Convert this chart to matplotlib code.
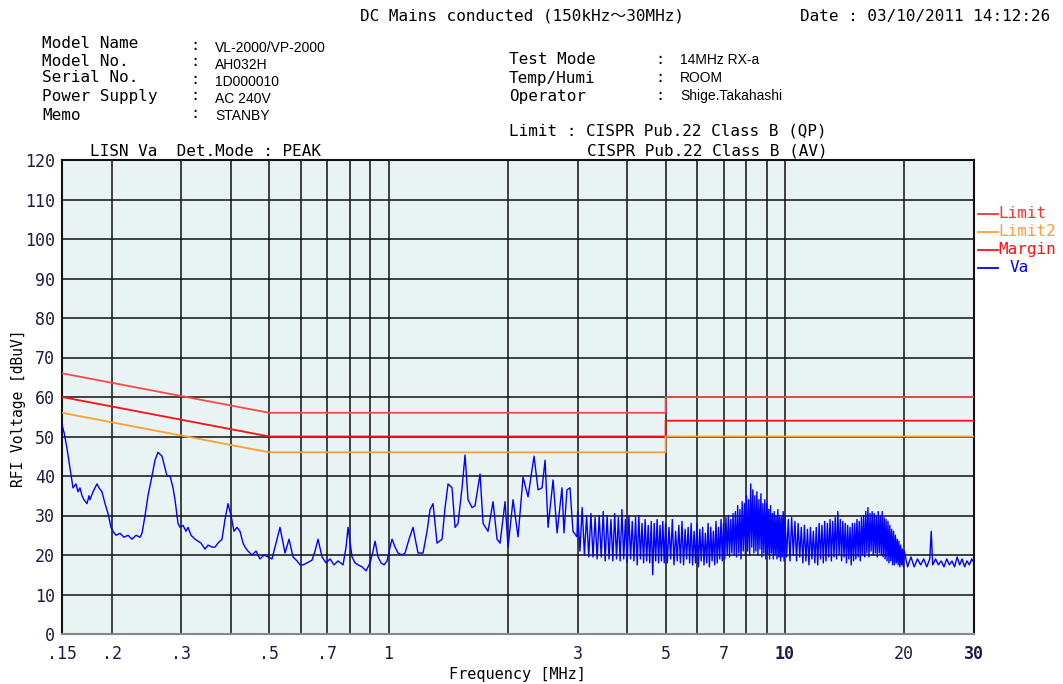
import numpy as np
import matplotlib
matplotlib.use("Agg")
import matplotlib.pyplot as plt
from matplotlib.ticker import NullLocator

# ---- limit lines (CISPR 22 class B) ----
lim_freq = [0.15, 0.5, 5.0, 5.0, 30.0]
limit_qp = [66, 56, 56, 60, 60]
limit_av = [56, 46, 46, 50, 50]
margin = [60, 50, 50, 54, 54]

# ---- measured Va trace, read off the plot ----
# 0.15 - 3 MHz
f_a = [0.150, 0.1518, 0.1544, 0.1571, 0.1599, 0.1627, 0.1646, 0.1665, 0.1685, 0.1704,
       0.1734, 0.1755, 0.1765, 0.1796, 0.1838, 0.1860, 0.1892, 0.1926, 0.1960, 0.1994,
       0.2017, 0.2053, 0.2101, 0.2150, 0.2201, 0.2253, 0.2306, 0.2360, 0.2388, 0.2430,
       0.2472, 0.2530, 0.2575, 0.2620, 0.2682, 0.2729, 0.2761, 0.2810, 0.2859, 0.2892,
       0.2943, 0.2978, 0.3030, 0.3083, 0.3119, 0.3174, 0.3249, 0.3306, 0.3364, 0.3443,
       0.3504, 0.3586, 0.3649, 0.3713, 0.3800, 0.3867, 0.3935, 0.4004, 0.4075, 0.4146,
       0.4219, 0.4294, 0.4344, 0.4420, 0.4524, 0.4630, 0.4739, 0.4851, 0.4965, 0.5081,
       0.5201, 0.5323, 0.5417, 0.5480, 0.5609, 0.5741, 0.5876, 0.5979, 0.6084, 0.6228,
       0.6411, 0.6524, 0.6639, 0.6795, 0.6954, 0.7118, 0.7285, 0.7457, 0.7677, 0.7812,
       0.7903, 0.8089, 0.8231, 0.8376, 0.8572, 0.8774, 0.8980, 0.9138, 0.9245, 0.9408,
       0.9573, 0.9741, 0.9913, 1.0087, 1.0205, 1.0384, 1.0567, 1.0815, 1.1006, 1.1264,
       1.1529, 1.1732, 1.1869, 1.2219, 1.2506, 1.2726, 1.2950, 1.3101, 1.3254, 1.3645,
       1.3885, 1.4129, 1.4461, 1.4716, 1.4974, 1.5326, 1.5595, 1.5870, 1.6243, 1.6529,
       1.7016, 1.7315, 1.7826, 1.8351, 1.8782, 1.9113, 1.9676, 2.0022, 2.0612, 2.1219,
       2.1845, 2.2490, 2.2886, 2.3289, 2.3837, 2.4398, 2.4827, 2.5263, 2.6009, 2.6621,
       2.7387, 2.7708, 2.8196, 2.8692, 2.9198, 2.9883]
v_a = [53, 51, 47, 42, 37, 38, 36, 37, 35, 34,
       33, 35, 34, 36, 38, 37, 36, 33, 30.5, 27,
       26, 25, 25.5, 24.5, 25, 24, 25, 24.5, 25.5, 30,
       35, 40, 44, 46, 45, 42, 40, 40, 37, 34,
       28, 27, 27.5, 26, 27, 25, 24, 23.5, 23, 21.5,
       22.5, 22, 22, 23, 24, 29, 33, 30, 26, 27,
       26, 23, 22, 21, 20, 21, 19, 20, 19.5, 19,
       23, 27, 23, 20.5, 24, 19.5, 18.5, 17.5, 17.5, 18,
       18.7, 21, 24, 19.5, 18, 19, 17.5, 18.5, 17.5, 22,
       27, 19.5, 18, 17.5, 17, 16, 18, 21, 23.5, 19.5,
       18, 17.5, 18.5, 22, 24, 22, 20.5, 20, 20.5, 24,
       27, 23, 20.5, 20.5, 26, 31.5, 33, 28, 23, 24,
       32, 38, 37, 27, 28, 37, 45.3, 34, 32, 32.5,
       40.5, 28, 26, 33.5, 24, 23, 33.5, 22, 34, 24.6,
       39.7, 34.7, 40, 45, 36.5, 37, 44, 27, 39, 25.6,
       37, 25.6, 36.5, 37, 26, 24.6]

# 3 - 5 MHz
f_b = [3.00, 3.04, 3.08, 3.12, 3.16, 3.20, 3.24, 3.28, 3.32, 3.36,
       3.40, 3.44, 3.48, 3.52, 3.56, 3.60, 3.64, 3.68, 3.72, 3.76,
       3.80, 3.84, 3.88, 3.92, 3.96, 4.00, 4.04, 4.08, 4.12, 4.16,
       4.20, 4.24, 4.28, 4.32, 4.36, 4.40, 4.44, 4.48, 4.52, 4.56,
       4.60, 4.64, 4.68, 4.72, 4.76, 4.80, 4.84, 4.88, 4.92, 4.96]
v_b = [31, 21, 32, 20, 30, 19.5, 30.5, 19.5, 29.5, 19,
       30, 19.5, 31, 18.5, 30, 19, 29, 18.5, 30.5, 19,
       29.5, 18.5, 31.5, 19, 29, 18, 30, 19, 28.5, 18.5,
       29.5, 17.5, 30, 19, 28, 18, 29, 18.5, 27.5, 18,
       28.5, 15, 28, 18.5, 29, 18, 27.5, 18.5, 28.5, 18]

# 5 - 10 MHz
f_c = [5.00, 5.05, 5.10, 5.15, 5.20, 5.25, 5.30, 5.35, 5.40, 5.45,
       5.50, 5.55, 5.60, 5.65, 5.70, 5.75, 5.80, 5.85, 5.90, 5.95,
       6.00, 6.05, 6.10, 6.15, 6.20, 6.25, 6.30, 6.35, 6.40, 6.45,
       6.50, 6.55, 6.60, 6.65, 6.70, 6.75, 6.80, 6.85, 6.90, 6.95,
       7.00, 7.05, 7.10, 7.15, 7.20, 7.25, 7.30, 7.35, 7.40, 7.45,
       7.50, 7.55, 7.60, 7.65, 7.70, 7.75, 7.80, 7.85, 7.90, 7.95,
       8.00, 8.05, 8.10, 8.15, 8.20, 8.25, 8.30, 8.35, 8.40, 8.45,
       8.50, 8.55, 8.60, 8.65, 8.70, 8.75, 8.80, 8.85, 8.90, 8.95,
       9.00, 9.05, 9.10, 9.15, 9.20, 9.25, 9.30, 9.35, 9.40, 9.45,
       9.50, 9.55, 9.60, 9.65, 9.70, 9.75, 9.80, 9.85, 9.90, 9.95]
v_c = [28, 18, 27, 19, 29, 17.5, 26, 18.5, 27.5, 18,
       28.5, 17.5, 26.5, 19, 27, 18, 28, 17.5, 26, 18,
       28, 17, 26.5, 18.5, 27, 17.5, 25.5, 18, 28, 17,
       27, 18.5, 26, 17.5, 28.5, 18, 27, 19, 29, 18.5,
       28, 19, 29.5, 20, 30, 19.5, 29, 20.5, 30.5, 20,
       31, 19.5, 32.5, 20.5, 31.5, 19, 33.5, 21, 33, 20,
       35, 21, 34, 20, 38, 22, 36.5, 20.5, 35, 21,
       36, 20, 34, 21.5, 35.5, 19.5, 33, 20.5, 34, 19,
       33, 20, 31.5, 19, 32.5, 20.5, 30.5, 19, 31, 20,
       30, 19, 31.5, 19.5, 30, 18.5, 29.5, 19.5, 31, 18.5]

# 10 - 20 MHz
f_d = [10.0, 10.1, 10.2, 10.3, 10.4, 10.5, 10.6, 10.7, 10.8, 10.9,
       11.0, 11.1, 11.2, 11.3, 11.4, 11.5, 11.6, 11.7, 11.8, 11.9,
       12.0, 12.1, 12.2, 12.3, 12.4, 12.5, 12.6, 12.7, 12.8, 12.9,
       13.0, 13.1, 13.2, 13.3, 13.4, 13.5, 13.6, 13.7, 13.8, 13.9,
       14.0, 14.1, 14.2, 14.3, 14.4, 14.5, 14.6, 14.7, 14.8, 14.9,
       15.0, 15.1, 15.2, 15.3, 15.4, 15.5, 15.6, 15.7, 15.8, 15.9,
       16.0, 16.1, 16.2, 16.3, 16.4, 16.5, 16.6, 16.7, 16.8, 16.9,
       17.0, 17.1, 17.2, 17.3, 17.4, 17.5, 17.6, 17.7, 17.8, 17.9,
       18.0, 18.1, 18.2, 18.3, 18.4, 18.5, 18.6, 18.7, 18.8, 18.9,
       19.0, 19.1, 19.2, 19.3, 19.4, 19.5, 19.6, 19.7, 19.8, 19.9]
v_d = [30, 19.5, 29, 18.5, 29.5, 20, 28.5, 18.5, 28, 19.5,
       27, 18, 27.5, 18.5, 26.5, 17.5, 27, 19, 26, 18,
       27, 17.5, 28, 19, 27.5, 18, 28.5, 18.5, 28, 19.5,
       29, 18.5, 28.5, 19.5, 29.5, 19, 31, 20, 29, 18.5,
       28.5, 19.5, 28, 18, 27.5, 19, 27, 17.5, 28, 18.5,
       28, 19, 29, 19.5, 28.5, 18.5, 29.5, 20, 30, 19.5,
       31, 20.5, 32, 19.5, 30.5, 21, 31, 20, 30.5, 20.5,
       30, 19.5, 31, 20.5, 30, 20, 31, 19.5, 29.5, 19,
       29, 18.5, 28.5, 18, 27.5, 18.5, 26.5, 17.5, 26, 17.5,
       25, 18, 24, 17.5, 23.5, 17, 22.5, 17.5, 21.5, 17]

# 20 - 30 MHz
f_e = [20.0, 20.4, 20.8, 21.2, 21.6, 22.0, 22.4, 22.8, 23.2, 23.4,
       23.6, 24.0, 24.4, 24.8, 25.2, 25.6, 26.0, 26.4, 26.8, 27.2,
       27.6, 28.0, 28.4, 28.8, 29.2, 29.6, 30.0]
v_e = [21, 17, 19.5, 17, 19, 17.5, 19, 17, 19, 26,
       17.5, 19, 17.5, 18.5, 17, 19, 17.5, 18.5, 17, 19.5,
       17.5, 19, 17, 18.5, 17.5, 19, 18]

va_freq = f_a + f_b + f_c + f_d + f_e
va_level = v_a + v_b + v_c + v_d + v_e

grid_freq = [0.2, 0.3, 0.4, 0.5, 0.6, 0.7, 0.8, 0.9, 1, 2, 3, 4, 5, 6, 7, 8, 9, 10, 20]
tick_freq = [0.15, 0.2, 0.3, 0.5, 0.7, 1, 3, 5, 7, 10, 20, 30]
tick_text = ['.15', '.2', '.3', '.5', '.7', '1', '3', '5', '7', '10', '20', '30']

MONO = ['DejaVu Sans Mono', 'Noto Sans CJK JP']
SANS = ['Liberation Sans', 'DejaVu Sans']
W, H = 1063, 684

fig = plt.figure(figsize=(W / 100, H / 100), dpi=100)
ax = fig.add_axes([62 / W, 1 - 634 / H, 912 / W, 474 / H])
ax.set_facecolor('#e9f3f3')


def px(x, y):
    return x / W, 1 - y / H


# grid
for f in grid_freq:
    ax.axvline(f, color='#111111', lw=1.1, zorder=1)
for v in range(10, 120, 10):
    ax.axhline(v, color='#111111', lw=1.1, zorder=1)

ax.plot(lim_freq, limit_qp, color='#ff4848', lw=1.3, zorder=3)
ax.plot(lim_freq, margin, color='#ff1010', lw=1.3, zorder=3)
ax.plot(lim_freq, limit_av, color='#ffa030', lw=1.3, zorder=3)
ax.plot(va_freq, va_level, color='#0000ff', lw=1.0, zorder=4)

ax.set_xscale('log')
ax.set_xlim(0.15, 30)
ax.set_ylim(0, 120)
ax.xaxis.set_minor_locator(NullLocator())
ax.set_xticks(tick_freq)
ax.set_xticklabels(tick_text)
ax.set_yticks(range(0, 121, 10))
ax.tick_params(length=0, labelsize=12, labelcolor='#1c1c44')
ax.tick_params(axis='x', pad=8)
ax.tick_params(axis='y', pad=5)
for lab in ax.get_xticklabels() + ax.get_yticklabels():
    lab.set_family(MONO)
for lab in ax.get_xticklabels():
    if lab.get_text() in ('10', '30'):
        lab.set_fontweight('bold')
for sp in ax.spines.values():
    sp.set_linewidth(1.5)
    sp.set_color('#111111')
ax.spines['bottom'].set_color('#888888')

fig.text(*px(517, 674), 'Frequency [MHz]', ha='center', va='center', family=MONO, fontsize=11)
fig.text(*px(19, 408), 'RFI Voltage [dBuV]', ha='center', va='center', rotation=90,
         family=MONO, fontsize=10.5)

# header
fig.text(*px(360, 16), 'DC Mains conducted (150kHz\uff5e30MHz)', va='center', family=MONO, fontsize=11.5)
fig.text(*px(800, 16), 'Date : 03/10/2011 14:12:26', va='center', family=MONO, fontsize=11.5)

left_keys = ['Model Name', 'Model No.', 'Serial No.', 'Power Supply', 'Memo']
left_vals = ['VL-2000/VP-2000', 'AH032H', '1D000010', 'AC 240V', 'STANBY']
key_y = [43, 61, 78, 96, 115]
val_y = [48, 65, 82, 99, 116]
for k, v, ky, vy in zip(left_keys, left_vals, key_y, val_y):
    fig.text(*px(42, ky), k, va='center', family=MONO, fontsize=11.5)
    fig.text(*px(190, vy - 3), ':', va='center', family=MONO, fontsize=11)
    fig.text(*px(215, vy), v, va='center', family=SANS, fontsize=10)

right_keys = ['Test Mode', 'Temp/Humi', 'Operator']
right_vals = ['14MHz RX-a', 'ROOM', 'Shige.Takahashi']
for i, (k, v) in enumerate(zip(right_keys, right_vals)):
    y = 60 + 18 * i
    fig.text(*px(509, y), k, va='center', family=MONO, fontsize=11.5)
    fig.text(*px(655, y), ':', va='center', family=MONO, fontsize=11)
    fig.text(*px(680, y), v, va='center', family=SANS, fontsize=10)

fig.text(*px(509, 131), 'Limit : CISPR Pub.22 Class B (QP)', va='center', family=MONO, fontsize=11.5)
fig.text(*px(587, 151), 'CISPR Pub.22 Class B (AV)', va='center', family=MONO, fontsize=11.5)
fig.text(*px(90, 151), 'LISN Va  Det.Mode : PEAK', va='center', family=MONO, fontsize=11.5)

# legend at right
legend_items = [('Limit', '#ff3030', 214, 998), ('Limit2', '#ffa030', 232, 998),
                ('Margin', '#ff1010', 250, 998), ('Va', '#0000ff', 268, 1010)]
for name, col, y, tx in legend_items:
    x0, y0 = px(978, y)
    x1, _ = px(998, y)
    fig.add_artist(plt.Line2D([x0, x1], [y0, y0], color=col, lw=1.3, transform=fig.transFigure))
    fig.text(*px(tx, y), name, va='center', color=col, family=MONO, fontsize=11.5)

fig.savefig('out.png', dpi=100)
